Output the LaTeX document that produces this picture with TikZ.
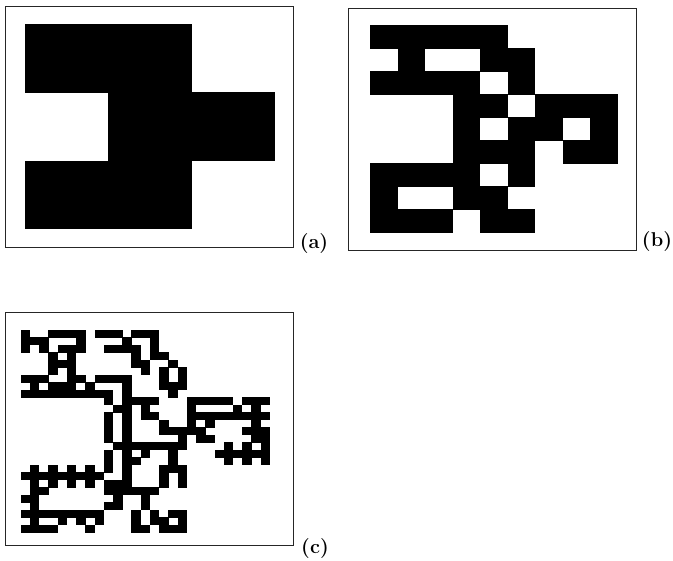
\documentclass[tikz,border=0pt]{standalone}
\usepackage{tikz}
\usetikzlibrary{positioning}

\tikzset{
  frame/.style={draw=black!85, line width=0.8pt},
  tag/.style={font=\fontsize{20}{22}\selectfont\bfseries, inner sep=0pt},
}

\begin{document}
\begin{tikzpicture}[x=1pt,y=-1pt]
  \useasboundingbox (0,0) rectangle (673,561);

  % Level 1 (a)
  \draw[frame] (5,6) rectangle (293,247);
  \foreach \r/\c in {0/0, 0/1, 1/1, 1/2, 2/0, 2/1} {
    \fill (25+\c*83.2, 24+\r*68.3) rectangle ++(83.5,68.6);
  }
  \node[tag] (laba) at (314,244) {(a)};

  % Level 2 (b)
  \draw[frame] (348,8) rectangle (636,250);
  \foreach \r/\cols in {0/{0,1,2,3,4}, 1/{1,4,5}, 2/{0,1,2,3,5},
      3/{3,4,6,7,8}, 4/{3,5,6,8}, 5/{3,4,5,7,8}, 6/{0,1,2,3,5},
      7/{0,3,4}, 8/{0,1,2,4,5}} {
    \foreach \c in \cols {
      \fill (370+\c*27.5, 25.5+\r*23) rectangle ++(27.8,23.3);
    }
  }
  \node[tag] (labb) at (657,242) {(b)};

  % Level 3 (c)
  \draw[frame] (5,312) rectangle (293,545);
  \foreach \r/\cols in {
      0/{0,3,4,5,6,8,9,10,12,13,14},
      1/{0,1,2,6,11,14},
      2/{0,2,4,5,6,9,10,11,12,14},
      3/{3,5,12,14,15},
      4/{3,4,5,12,13,16},
      5/{3,5,13,15,17},
      6/{0,1,2,5,6,8,9,10,11,15,17},
      7/{1,3,4,5,7,11,15,16,17},
      8/{0,1,2,3,4,5,6,7,8,9,11,16},
      9/{9,11,12,13,14,18,19,20,21,22,24,25,26},
      10/{10,11,13,18,23,25},
      11/{9,11,13,14,18,19,20,21,22,23,24,25,26},
      12/{9,11,15,18,20,25},
      13/{9,11,15,16,17,18,19,24,25,26},
      14/{9,11,17,19,20,25,26},
      15/{10,11,12,13,14,15,16,17,22,24,26},
      16/{9,11,13,16,21,22,23,24,25,26},
      17/{9,11,12,16,22,24,26},
      18/{1,3,5,7,9,11,15,16,17},
      19/{0,1,2,3,4,5,6,7,8,11,15,17},
      20/{1,3,5,7,9,10,11,15,17},
      21/{1,2,9,10,11,12,13,14},
      22/{0,1,10,13},
      23/{1,9,10,13},
      24/{0,1,2,3,4,5,6,7,8,12,14,16,17},
      25/{1,4,6,8,12,14,15,17},
      26/{0,1,2,3,7,12,13,15,16,17}} {
    \foreach \c in \cols {
      \fill (20.7+\c*9.23, 330+\r*7.5) rectangle ++(9.5,7.8);
    }
  }
  \node[tag] (labc) at (315,549) {(c)};
\end{tikzpicture}
\end{document}
